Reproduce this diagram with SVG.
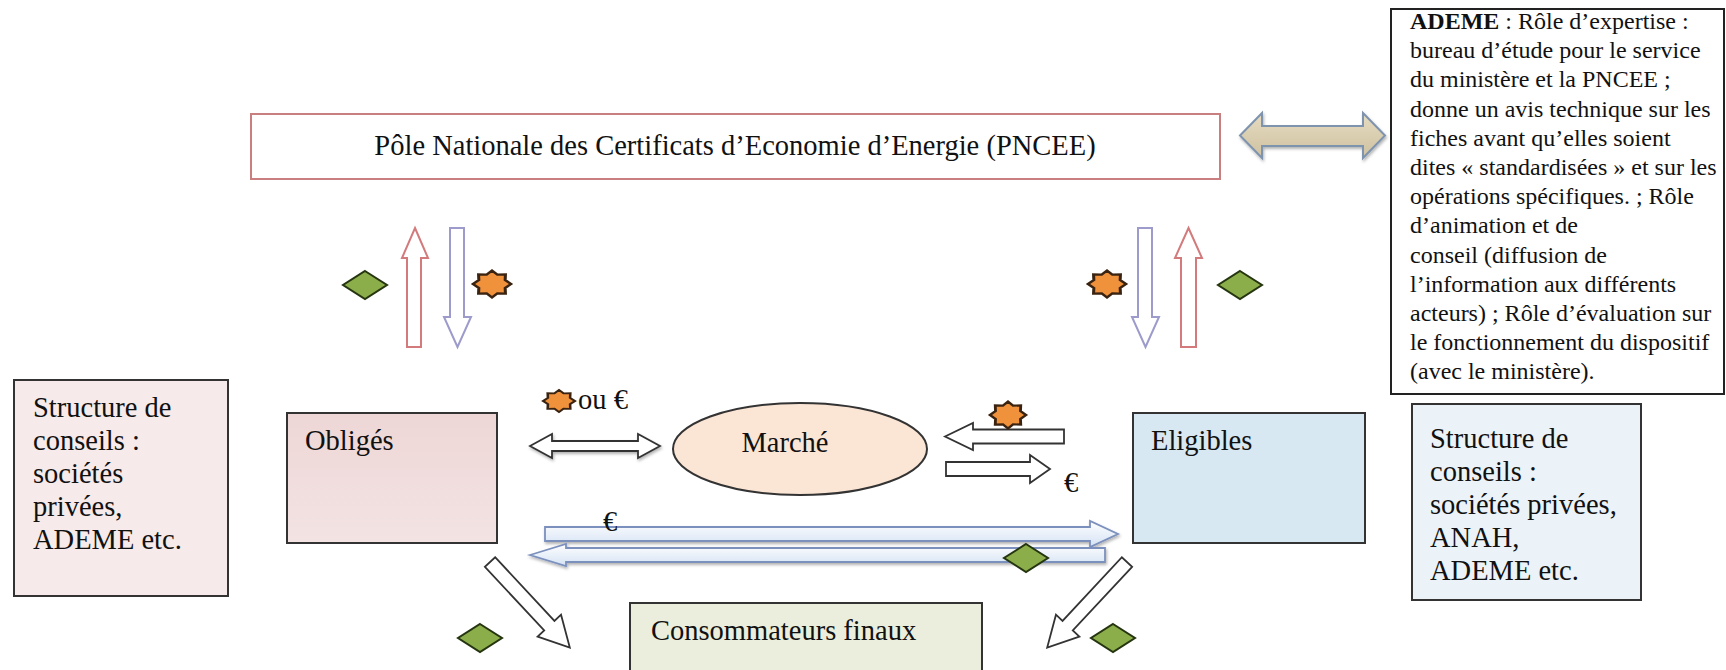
<svg xmlns="http://www.w3.org/2000/svg" xmlns:xlink="http://www.w3.org/1999/xlink" width="1726" height="670" viewBox="0 0 1726 670">
<style>
  text { font-family: "Liberation Serif", "Times New Roman", serif; fill: #111; }
  .t { font-size: 28.5px; }
  .s { font-size: 24px; }
  .box { stroke: #333; stroke-width: 2; }
  .red { fill: #fff; stroke: #d27a7c; stroke-width: 2; }
  .pur { fill: #fff; stroke: #9c9bcb; stroke-width: 2; }
  .wa { fill: #fff; stroke: #333; stroke-width: 1.8; }
  .ba { fill: url(#blueg); stroke: #7c90be; stroke-width: 1.8; }
  .dia { fill: #8cae4a; stroke: #243510; stroke-width: 2; }
  .star { fill: #f0923c; stroke: #3b2311; stroke-width: 1.6; }
</style>
<defs>
  <linearGradient id="blueg" x1="0" y1="0" x2="0" y2="1">
    <stop offset="0" stop-color="#ffffff"/>
    <stop offset="1" stop-color="#d4e2f4"/>
  </linearGradient>
  <linearGradient id="tang" x1="0" y1="0" x2="0" y2="1">
    <stop offset="0" stop-color="#e6dcc2"/>
    <stop offset="1" stop-color="#cfc1a0"/>
  </linearGradient>
  <linearGradient id="oblg" x1="0" y1="0" x2="0" y2="1">
    <stop offset="0" stop-color="#eed6d6"/>
    <stop offset="1" stop-color="#f3e3e3"/>
  </linearGradient>
  <filter id="sh" x="-10%" y="-30%" width="120%" height="180%">
    <feDropShadow dx="1" dy="2" stdDeviation="1.5" flood-color="#000" flood-opacity="0.3"/>
  </filter>
  <polygon id="diam" points="0,-14 22,0 0,14 -22,0"/>
  <polygon id="st8" points="10,0 6.93,2.87 7.07,7.07 2.87,6.93 0,10 -2.87,6.93 -7.07,7.07 -6.93,2.87 -10,0 -6.93,-2.87 -7.07,-7.07 -2.87,-6.93 0,-10 2.87,-6.93 7.07,-7.07 6.93,-2.87"/>
</defs>

<rect width="1726" height="670" fill="#fff"/>

<g id="pncee">
  <rect x="251" y="114" width="969" height="65" fill="#fff" stroke="#c97e80" stroke-width="2"/>
  <text class="t" x="735" y="155" text-anchor="middle">Pôle Nationale des Certificats d’Economie d’Energie (PNCEE)</text>
</g>

<g id="ademe">
  <rect x="1391" y="9" width="333" height="385" fill="#fff" stroke="#222" stroke-width="2"/>
  <text class="s" x="1410" y="29"><tspan font-weight="bold">ADEME</tspan> : Rôle d’expertise :</text>
  <text class="s" x="1410" y="58.2">bureau d’étude pour le service</text>
  <text class="s" x="1410" y="87.4">du ministère et la PNCEE ;</text>
  <text class="s" x="1410" y="116.6">donne un avis technique sur les</text>
  <text class="s" x="1410" y="145.8">fiches avant qu’elles soient</text>
  <text class="s" x="1410" y="175">dites « standardisées » et sur les</text>
  <text class="s" x="1410" y="204.2">opérations spécifiques. ; Rôle</text>
  <text class="s" x="1410" y="233.4">d’animation et de</text>
  <text class="s" x="1410" y="262.6">conseil (diffusion de</text>
  <text class="s" x="1410" y="291.8">l’information aux différents</text>
  <text class="s" x="1410" y="321">acteurs) ; Rôle d’évaluation sur</text>
  <text class="s" x="1410" y="350.2">le fonctionnement du dispositif</text>
  <text class="s" x="1410" y="379.4">(avec le ministère).</text>
</g>

<g id="structure-gauche">
  <rect class="box" x="14" y="380" width="214" height="216" fill="#f7eaea"/>
  <text class="t" x="33" y="417">Structure de</text>
  <text class="t" x="33" y="450">conseils :</text>
  <text class="t" x="33" y="483">sociétés</text>
  <text class="t" x="33" y="516">privées,</text>
  <text class="t" x="33" y="549">ADEME etc.</text>
</g>

<g id="obliges">
  <rect class="box" x="287" y="413" width="210" height="130" fill="url(#oblg)"/>
  <text class="t" x="305" y="450">Obligés</text>
</g>

<g id="marche">
  <ellipse cx="800" cy="449" rx="127" ry="46" fill="#fbe5d5" stroke="#333" stroke-width="2"/>
  <text class="t" x="785" y="452" text-anchor="middle">Marché</text>
</g>

<g id="eligibles">
  <rect class="box" x="1133" y="413" width="232" height="130" fill="#d8e8f2"/>
  <text class="t" x="1151" y="450">Eligibles</text>
</g>

<g id="structure-droite">
  <rect class="box" x="1412" y="404" width="229" height="196" fill="#ecf3f8"/>
  <text class="t" x="1430" y="448">Structure de</text>
  <text class="t" x="1430" y="481">conseils :</text>
  <text class="t" x="1430" y="514">sociétés privées,</text>
  <text class="t" x="1430" y="547">ANAH,</text>
  <text class="t" x="1430" y="580">ADEME etc.</text>
</g>

<g id="consommateurs">
  <rect class="box" x="630" y="603" width="352" height="100" fill="#ebeedc"/>
  <text class="t" x="651" y="640">Consommateurs finaux</text>
</g>

<g id="connectors">
  <polygon points="1240,135.5 1262,113 1262,126 1363,126 1363,113 1385,135.5 1363,158 1363,146 1262,146 1262,158" fill="url(#tang)" stroke="#7e93ae" stroke-width="2" filter="url(#sh)"/>

  <polygon class="red" points="415,228 428,258 421,258 421,347 407,347 407,258 402,258"/>
  <polygon class="pur" points="450,228 464,228 464,317 471,317 457.5,347 444,317 450,317"/>
  <polygon class="pur" points="1138,228 1152,228 1152,317 1159,317 1145.5,347 1132,317 1138,317"/>
  <polygon class="red" points="1188.5,228 1202,258 1196,258 1196,347 1181,347 1181,258 1175,258"/>

  <polygon class="wa" filter="url(#sh)" points="530,446 552,434 552,441 638,441 638,434 660,446 638,458 638,451 552,451 552,458"/>
  <polygon class="wa" points="945,436.5 973,423 973,429.5 1064,429.5 1064,443.5 973,443.5 973,450"/>
  <polygon class="wa" points="946,462 1030,462 1030,455 1050,469 1030,483 1030,476 946,476"/>

  <polygon class="ba" filter="url(#sh)" points="545,527 1090,527 1090,521 1118,534 1090,547 1090,541 545,541"/>
  <polygon class="ba" filter="url(#sh)" points="530,555 566,544 566,548 1105,548 1105,562 566,562 566,566"/>

  <polygon class="wa" transform="translate(490,562) rotate(47)" points="0,-7 87,-7 87,-16 117,0 87,16 87,7 0,7"/>
  <polygon class="wa" transform="translate(1127,562) rotate(133)" points="0,-7 87,-7 87,-16 117,0 87,16 87,7 0,7"/>

  <text class="t" x="578" y="409">ou €</text>
  <text class="t" x="1064" y="492">€</text>
  <text class="t" x="603" y="531">€</text>

  <use href="#diam" class="dia" x="365" y="285"/>
  <use href="#diam" class="dia" x="1240" y="285"/>
  <use href="#diam" class="dia" x="1026" y="558"/>
  <use href="#diam" class="dia" x="480" y="638"/>
  <use href="#diam" class="dia" x="1113" y="638"/>

  <use href="#st8" class="star" transform="translate(492,284) scale(1.9,1.35)"/>
  <use href="#st8" class="star" transform="translate(1107,284) scale(1.9,1.35)"/>
  <use href="#st8" class="star" transform="translate(559,401) scale(1.6,1.1)"/>
  <use href="#st8" class="star" transform="translate(1008,415) scale(1.8,1.35)"/>
</g>
</svg>
